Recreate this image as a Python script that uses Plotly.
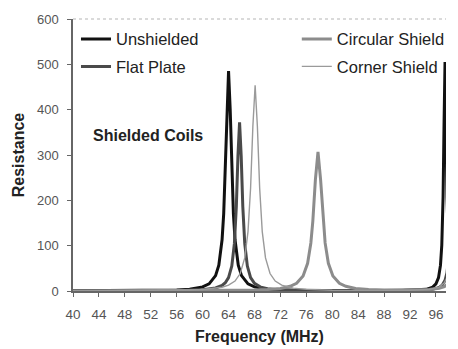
import plotly.graph_objects as go

# ---- data ----
unshielded_f = [40, 50, 56, 58, 60, 61, 62, 62.5, 63, 63.25, 63.5, 63.75, 64, 64.25, 64.5, 64.75, 65, 65.5, 66, 67, 68, 70, 74, 80, 86, 90, 93, 94.5, 95.5, 96, 96.4, 96.7, 96.9, 97.1, 97.25, 97.4, 97.55, 97.7, 97.98]
unshielded_r = [0.3, 0.7, 2.3, 4.0, 9.0, 15.8, 34, 57, 113, 170, 266, 402, 485, 402, 266, 170, 113, 57, 34, 15.8, 9, 4, 1.5, 0.6, 0.5, 0.8, 1.7, 3.7, 8.6, 15.6, 29.7, 57, 101, 207, 371, 505, 371, 207, 79]

flat_f = [40, 50, 56, 58, 60, 61, 62, 63, 63.5, 64, 64.5, 64.9, 65.2, 65.45, 65.7, 65.95, 66.2, 66.5, 66.9, 67.4, 68, 69, 70, 72, 76, 82, 90, 94, 95.5, 96.5, 97, 97.4, 97.7, 97.98]
flat_r = [0.2, 0.4, 1.0, 1.6, 2.8, 4.2, 6.7, 12.3, 18.2, 29.6, 55, 104.5, 186, 298, 372, 298, 186, 104.5, 55, 29.6, 16.8, 8.3, 5.0, 2.3, 0.9, 0.4, 0.3, 1.9, 3.7, 8, 13.6, 23.5, 40, 76]

circular_f = [40, 50, 56, 60, 64, 68, 70, 72, 73.5, 74.5, 75.5, 76.2, 76.7, 77.0, 77.4, 77.8, 78.2, 78.6, 78.9, 79.4, 80.1, 81.1, 82.1, 83.6, 85.6, 88, 92, 95, 96.5, 97.3, 97.98]
circular_r = [0.1, 0.25, 0.4, 0.6, 1.0, 2.0, 3.2, 5.7, 10.3, 17, 33, 61, 106, 153.5, 245.6, 307, 245.6, 153.5, 106, 61, 33, 17, 10.3, 5.7, 3.2, 2.3, 2.0, 3.3, 6, 9.8, 17.5]

corner_f = [40, 50, 56, 58, 60, 62, 63, 64, 65, 65.8, 66.5, 67.0, 67.4, 67.75, 68.1, 68.45, 68.8, 69.2, 69.7, 70.4, 71.2, 72.2, 74, 76, 80, 86, 92, 95, 96.5, 97.3, 97.7, 97.98]
corner_r = [0.3, 0.7, 1.5, 2.2, 3.4, 5.9, 8.4, 12.9, 22, 38.5, 73, 131, 227, 363, 454, 363, 227, 131, 73, 38.5, 22, 12.9, 6.3, 3.5, 1.6, 0.7, 1.5, 3.6, 8.7, 18.3, 30.4, 47]

x_ticks = [40, 44, 48, 52, 56, 60, 64, 68, 72, 76, 80, 84, 88, 92, 96]
y_ticks = [0, 100, 200, 300, 400, 500, 600]

FONT = "Liberation Sans, Arial, sans-serif"

fig = go.Figure()
fig.add_trace(go.Scatter(x=unshielded_f, y=unshielded_r, mode="lines", name="Unshielded",
                         line=dict(color="#111111", width=3), legend="legend",
                         legendgroup="a"))
fig.add_trace(go.Scatter(x=flat_f, y=flat_r, mode="lines", name="Flat Plate",
                         line=dict(color="#4a4a4a", width=3), legend="legend",
                         legendgroup="b"))
fig.add_trace(go.Scatter(x=circular_f, y=circular_r, mode="lines", name="Circular Shield",
                         line=dict(color="#8c8c8c", width=3), legend="legend2",
                         legendgroup="c"))
fig.add_trace(go.Scatter(x=corner_f, y=corner_r, mode="lines", name="Corner Shield",
                         line=dict(color="#9a9a9a", width=1.4), legend="legend2",
                         legendgroup="d"))

legend_common = dict(font=dict(family=FONT, size=16.5, color="#222222"),
                     bgcolor="rgba(0,0,0,0)", borderwidth=0,
                     xanchor="left", yanchor="top", tracegroupgap=3,
                     traceorder="grouped", itemwidth=30)

# page body adds an 8px offset; the visible area ends about 8px before the window edge
fig.update_layout(
    width=450, height=341,
    margin=dict(l=65, r=8, t=11, b=58),
    paper_bgcolor="white", plot_bgcolor="white",
    font=dict(family=FONT, color="#555555"),
    showlegend=True,
    legend=dict(x=0.008, y=0.99, **legend_common),
    legend2=dict(x=0.60, y=0.99, **legend_common),
    xaxis=dict(range=[40, 97.55], tickvals=x_ticks, ticktext=[str(v) for v in x_ticks],
               showgrid=False, zeroline=False, showline=True, linecolor="#666666",
               linewidth=1.5, ticks="outside", ticklen=4, tickcolor="#666666",
               tickfont=dict(family=FONT, size=13.5, color="#555555"),
               ticklabelstandoff=6, automargin=False,
               title=dict(text="<b>Frequency (MHz)</b>", standoff=10,
                          font=dict(family=FONT, size=16, color="#222222"))),
    yaxis=dict(range=[0, 600], tickvals=y_ticks, showgrid=False, zeroline=False,
               showline=True, linecolor="#666666", linewidth=1.5, ticks="outside",
               ticklen=4, tickcolor="#666666",
               tickfont=dict(family=FONT, size=13, color="#555555"),
               ticklabelstandoff=6, automargin=False,
               title=dict(text="<b>Resistance</b>", standoff=8,
                          font=dict(family=FONT, size=16, color="#222222"))),
    shapes=[dict(type="line", xref="paper", yref="paper", x0=0, x1=1, y0=1, y1=1,
                 line=dict(color="#b5b5b5", width=1.2, dash="dot"))],
    annotations=[dict(text="<b>Shielded Coils</b>", xref="paper", yref="paper",
                      x=0.2, y=0.57, showarrow=False, xanchor="center", yanchor="middle",
                      font=dict(family=FONT, size=16, color="#222222"))],
)

fig.write_html("out.html")
